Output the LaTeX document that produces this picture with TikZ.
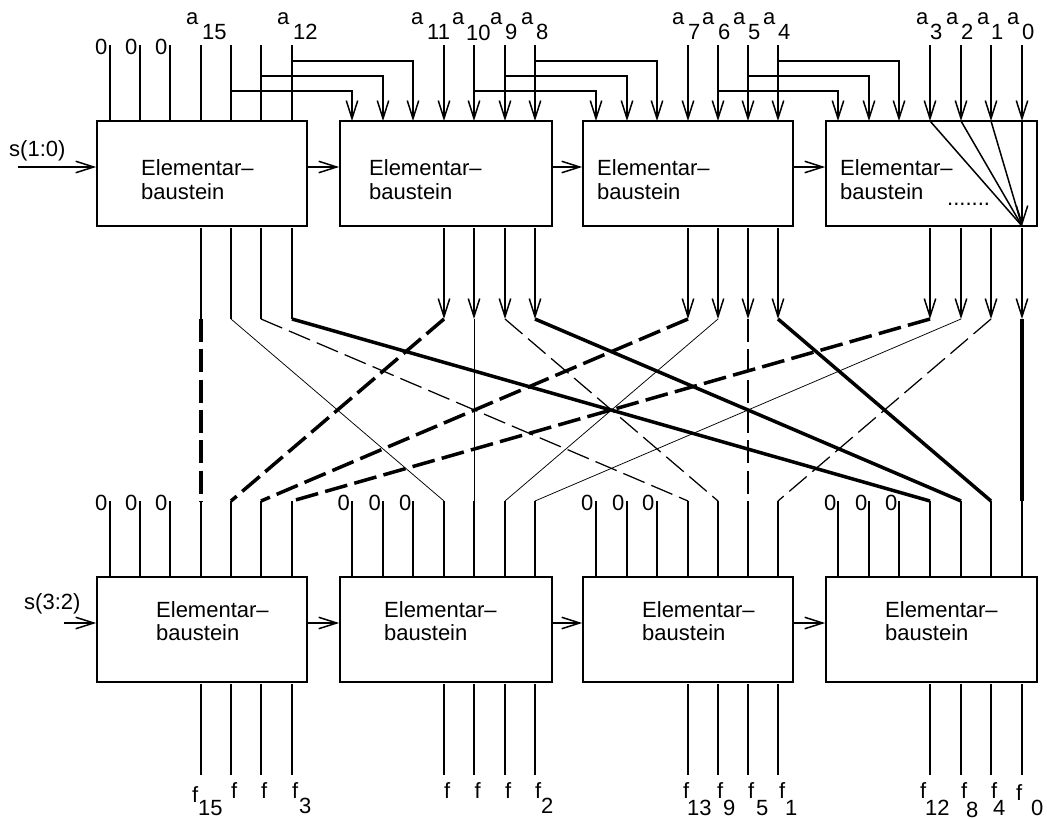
\documentclass[tikz,border=0pt]{standalone}
\usepackage{fontspec}
\setmainfont{Liberation Sans}
\usetikzlibrary{arrows.meta}
\tikzset{
  wire/.style={line width=1.5pt},
  arr/.style={wire,-{Straight Barb[length=18pt,width=11.5pt,line width=1.5pt]}},
  boxnode/.style={draw,line width=1.7pt,minimum width=210pt,minimum height=105pt,inner sep=0pt},
  lab/.style={anchor=base west,inner sep=0pt,font=\fontsize{22}{22}\selectfont},
  elem/.style={anchor=north west,inner sep=0pt,align=left,font=\fontsize{22}{24}\selectfont},
  elemb/.style={anchor=north west,inner sep=0pt,align=left,font=\fontsize{22}{23}\selectfont},
  xthin/.style={line width=0.75pt},
  xmed/.style={line width=1.25pt,dash pattern=on 23pt off 7.3pt},
  xthickd/.style={line width=3.5pt,dash pattern=on 23pt off 7.3pt},
  xthick/.style={line width=3.5pt},
}
\begin{document}
\begin{tikzpicture}[x=1pt,y=-1pt]
\useasboundingbox (0,0) rectangle (1047,819);
% boxes
\foreach \n/\x/\w in {1/202/210,2/446/212,3/688/210,4/931.5/211}{
  \node[boxnode,minimum width=\w pt] (b\n) at (\x,173.5) {};
  \node[boxnode,minimum width=\w pt] (c\n) at (\x,629.5) {};
}
% data columns
\foreach \i/\x in {1/201,2/231,3/261,4/292,5/444,6/474,7/505,8/535,9/688,10/718,11/748,12/778,13/930,14/961,15/991,16/1022}{
  \coordinate (T\i) at (\x,45);
  \coordinate (A\i) at (\x,121);
  \coordinate (B\i) at (\x,228);
  \coordinate (U\i) at (\x,319);
  \coordinate (L\i) at (\x,501);
  \coordinate (C\i) at (\x,577);
  \coordinate (D\i) at (\x,684);
  \coordinate (E\i) at (\x,775);
}
% zero columns
\foreach \i/\x in {1/110,2/140,3/170,4/352,5/383,6/413,7/596,8/627,9/657,10/838,11/869,12/899}{
  \coordinate (Zt\i) at (\x,121);
  \coordinate (Zl\i) at (\x,501);
  \coordinate (Zc\i) at (\x,577);
}
\coordinate (Z1) at (110,45);\coordinate (Z2) at (140,45);\coordinate (Z3) at (170,45);
% top inputs
\foreach \i in {1,2,3}{\draw[wire] (Z\i) -- (Zt\i);}
\foreach \i in {1,2,3,4}{\draw[wire] (T\i) -- (A\i);}
\foreach \i in {5,...,16}{\draw[arr] (T\i) -- (A\i);}
% branches
\foreach \s/\d/\y in {2/4/91,3/5/76,4/6/61,6/7/91,7/8/76,8/9/61,10/10/91,11/11/76,12/12/61}{
  \path (T\s) ++(0,\y-45) coordinate (H\s);
  \draw[arr] (H\s) -| (Zt\d);
}
% fan in last box
\coordinate (F) at (1022,226);
\foreach \i in {13,14,15}{\draw[wire] (A\i) -- (F);}
\draw[arr] (A16) -- (F);
% outputs of top row
\foreach \i in {1,2,3,4}{\draw[wire] (B\i) -- (U\i);}
\foreach \i in {5,...,16}{\draw[arr] (B\i) -- (U\i);}
% shuffle
\foreach \a/\b/\st in {1/1/xthickd,2/5/xthin,3/9/xmed,4/13/xthick,5/2/xthickd,6/6/xthin,7/10/xmed,8/14/xthick,9/3/xthickd,10/7/xthin,11/11/xmed,12/15/xthick,13/4/xthickd,14/8/xthin,15/12/xmed,16/16/xthick}{
  \draw[\st] (U\a) -- (L\b);
}
% bottom row wires
\foreach \i in {1,...,16}{
  \draw[wire] (L\i) -- (C\i);
  \draw[wire] (D\i) -- (E\i);
}
\foreach \i in {1,...,12}{\draw[wire] (Zl\i) -- (Zc\i);}
% chain arrows
\coordinate (r1) at (18,167);
\coordinate (r2) at (64,623);
\draw[arr] (r1) -- (r1 -| b1.west);
\draw[arr] (r2) -- (r2 -| c1.west);
\foreach \a/\b in {1/2,2/3,3/4}{
  \draw[arr] (r1 -| b\a.east) -- (r1 -| b\b.west);
  \draw[arr] (r2 -| c\a.east) -- (r2 -| c\b.west);
}
% block texts
\foreach \n/\x in {1/141,2/369,3/597,4/840}{
  \node[elem] (te\n) at (\x,159.8) {Elementar–\\baustein};
}
\foreach \n/\x in {1/156,2/384,3/642,4/885}{
  \node[elemb] (tf\n) at (\x,601) {Elementar–\\baustein};
}
\node[lab] (dots) at (947,205) {.......};
\node[lab] (s1) at (9,156) {s(1:0)};
\node[lab] (s2) at (24,609) {s(3:2)};
% zeros
\foreach \n/\x/\y in {a/95/54,b/125/54,c/155/54,d/95/510,e/125/510,f/155/510,g/337.5/510,h/368.5/510,i/399/510,j/581/510,k/612/510,l/642/510,m/824/510,n/855/510,o/885/510}{
  \node[lab] (zero\n) at (\x,\y) {0};
}
% a labels
\foreach \n/\x in {15/186,12/277,11/411,10/452,9/490,8/521,7/672,6/702,5/733,4/763,3/916,2/946,1/977,0/1007}{
  \node[lab] (a\n) at (\x,24) {a};
}
\foreach \n/\x/\y in {15/202/39,12/293/39,11/427/39,10/466/40,9/505/39,8/536/39,7/688/39,6/718/39,5/748/39,4/778/39,3/930/39,2/961/39,1/991/39,0/1022/39}{
  \node[lab] (an\n) at (\x,\y) {\n};
}
% f labels
\foreach \n/\x/\y in {a/192/802,b/231/798,c/261/798,d/292/798,e/444/798,f/474.5/798,g/505/798,h/535/798,i/683/798,j/717/798,k/748/798,l/779/798,m/920/798,n/961/798,o/991/798,p/1016/800}{
  \node[lab] (f\n) at (\x,\y) {f};
}
\foreach \n/\t/\x/\y in {a/15/198/815,b/3/299/813,c/2/541/813,d/13/687/815,e/9/723/815,g/5/756/815,h/1/785/815,i/12/925/815,j/8/966/817,k/4/993/815,l/0/1031/815}{
  \node[lab] (fn\n) at (\x,\y) {\t};
}
\end{tikzpicture}
\end{document}
